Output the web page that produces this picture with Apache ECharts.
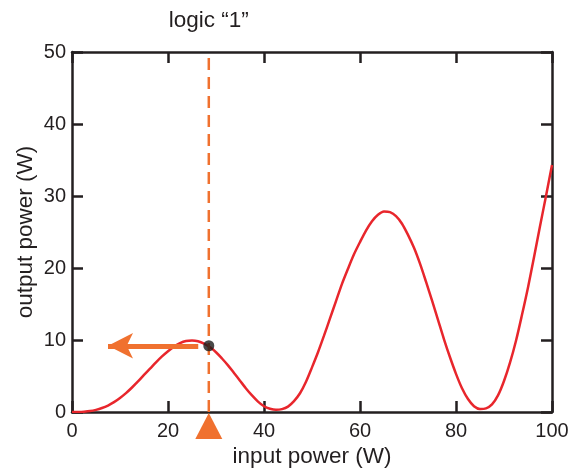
<!DOCTYPE html>
<html>
<head>
<meta charset="utf-8">
<script src="https://cdn.jsdelivr.net/npm/echarts@6/dist/echarts.min.js"></script>
<style>html,body{margin:0;padding:0;background:#fff;}#c{width:572px;height:469px;}</style>
</head>
<body>
<div id="c"></div>
<script>
// ---- data ----
const inputPower = [0,1.25,2.5,3.75,5,6.25,7.5,8.75,10,11.25,12.5,13.75,15,16.25,17.5,18.75,20,21.25,22.5,23.75,25,26.25,27.5,28.75,30,31.25,32.5,33.75,35,36.25,37.5,38.75,40,41.25,42.5,43.75,45,46.25,47.5,48.75,50,51.25,52.5,53.75,55,56.25,57.5,58.75,60,61.25,62.5,63.75,65,66.25,67.5,68.75,70,71.25,72.5,73.75,75,76.25,77.5,78.75,80,81.25,82.5,83.75,85,86.25,87.5,88.75,90,91.25,92.5,93.75,95,96.25,97.5,98.75,100];
const outputPower = [0,0.01,0.05,0.13,0.3,0.55,0.9,1.37,1.95,2.62,3.4,4.24,5.15,6.02,6.9,7.72,8.45,9.07,9.55,9.85,9.92,9.82,9.5,8.98,8.3,7.43,6.48,5.42,4.35,3.27,2.3,1.45,0.8,0.45,0.3,0.4,0.75,1.5,2.6,4.2,6.2,8.3,10.6,13.0,15.4,17.8,19.9,21.9,23.6,25.2,26.5,27.4,27.85,27.75,27.2,26.15,24.6,22.8,20.6,18.1,15.5,12.8,10.1,7.6,5.3,3.3,1.8,0.8,0.42,0.5,1.05,2.3,4.3,6.85,9.9,13.5,17.3,21.5,25.8,30.0,34.3];
const xTicks = [0,20,40,60,80,100];
const yTicks = [0,10,20,30,40,50];
const logicInput = 28.5;      // input power for logic "1"
const logicOutput = 9.2;      // resulting output power
const arrowFrom = 26.3;       // arrow start (input power)
const arrowTo = 7.5;          // arrow tip (input power)
const titleText = 'logic “1”';
const xName = 'input power (W)';
const yName = 'output power (W)';

// ---- chart ----
const FONT = 'Liberation Sans';
const INK = '#231f20';
const RED = '#e8262c';
const ORANGE = '#f0712f';

const chart = echarts.init(document.getElementById('c'), null, {renderer: 'canvas'});
const curve = inputPower.map((x, i) => [x, outputPower[i]]);

function axisBase(pos, isX, showLabel) {
  const ticks = isX ? xTicks : yTicks;
  return {
    type: 'value',
    position: pos,
    min: ticks[0],
    max: ticks[ticks.length - 1],
    interval: ticks[1] - ticks[0],
    axisLine: {show: true, onZero: false, lineStyle: {color: INK, width: 2.5}},
    axisTick: {show: true, inside: true, length: 11, lineStyle: {color: INK, width: 2.5}},
    axisLabel: {show: showLabel, color: INK, fontFamily: FONT, fontSize: 20, margin: isX ? 9 : 6},
    splitLine: {show: false}
  };
}

const option = {
  animation: false,
  backgroundColor: '#fff',
  grid: {left: 72, right: 20, top: 52, bottom: 57, containLabel: false, outerBoundsMode: 'none'},
  xAxis: [
    Object.assign(axisBase('bottom', true, true), {
      name: xName, nameLocation: 'middle', nameGap: 33, nameMoveOverlap: false,
      nameTextStyle: {color: INK, fontFamily: FONT, fontSize: 22.5}
    }),
    axisBase('top', true, false)
  ],
  yAxis: [
    Object.assign(axisBase('left', false, true), {
      name: yName, nameLocation: 'middle', nameGap: 35, nameMoveOverlap: false,
      nameTextStyle: {color: INK, fontFamily: FONT, fontSize: 22.5}
    }),
    axisBase('right', false, false)
  ],
  series: [
    {
      type: 'line',
      data: curve,
      smooth: 0.3,
      showSymbol: false,
      symbol: 'none',
      lineStyle: {color: RED, width: 2.5},
      z: 3
    },
    {
      type: 'line',
      data: [[logicInput, yTicks[0]], [logicInput, yTicks[yTicks.length - 1]]],
      showSymbol: false,
      symbol: 'none',
      lineStyle: {color: ORANGE, width: 2.5, type: [12, 7]},
      z: 4,
      markLine: {
        silent: true,
        symbol: ['none', 'arrow'],
        symbolSize: [19, 25],
        label: {show: false},
        lineStyle: {color: ORANGE, width: 5, type: 'solid'},
        data: [[{coord: [arrowFrom, logicOutput]}, {coord: [arrowTo, logicOutput]}]]
      },
      markPoint: {
        silent: true,
        symbol: 'triangle',
        symbolSize: [27, 26],
        symbolOffset: [0, 14],
        itemStyle: {color: ORANGE},
        label: {show: false},
        data: [{coord: [logicInput, yTicks[0]]}]
      }
    },
    {
      type: 'scatter',
      data: [[logicInput, logicOutput]],
      symbol: 'circle',
      symbolSize: 11,
      itemStyle: {color: '#1b1b1b'},
      z: 6
    }
  ],
  graphic: []
};
chart.setOption(option);
const titlePos = chart.convertToPixel({xAxisIndex: 0, yAxisIndex: 0}, [logicInput, yTicks[yTicks.length - 1]]);
chart.setOption({
  graphic: [{
    type: 'text',
    x: titlePos[0],
    y: titlePos[1] - 31,
    style: {text: titleText, fill: INK, font: '22.5px "Liberation Sans"', align: 'center', verticalAlign: 'middle'}
  }]
});
</script>
</body>
</html>
